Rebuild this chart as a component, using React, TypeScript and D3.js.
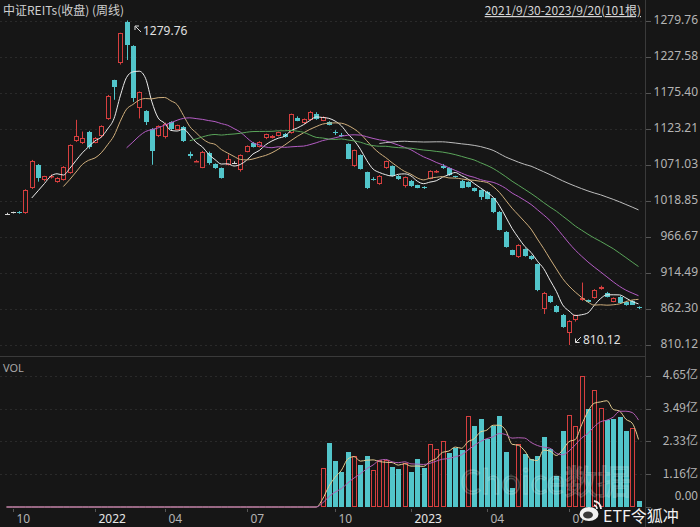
import * as d3 from 'd3';

// 中证REITs 周线 2021/9/30 - 2023/9/20, 101 bars
const opens = [
  1000, 1002, 1003, 1001, 1037, 1071, 1049, 1053, 1046, 1049,
  1059, 1105, 1103, 1118, 1103, 1112, 1137, 1193, 1218, 1277,
  1243, 1153, 1149, 1123, 1113, 1111, 1133, 1122, 1126, 1086,
  1076, 1067, 1088, 1072, 1066, 1071, 1074, 1063, 1090, 1103,
  1097, 1109, 1110, 1113, 1116, 1117, 1139, 1131, 1136, 1145,
  1135, 1133, 1118, 1114, 1101, 1069, 1085, 1060, 1051, 1043,
  1066, 1069, 1054, 1040, 1048, 1041, 1039, 1051, 1060, 1069,
  1066, 1054, 1048, 1046, 1037, 1034.5, 1032, 1022.5, 1003, 974,
  947, 937, 949, 939, 927.5, 862, 881, 867, 854, 827,
  847, 875.5, 875, 878, 891, 886, 873, 880, 873, 874.5,
  865,
];
const closes = [
  1000, 1002, 1001, 1034.5, 1077, 1052, 1054, 1055, 1051.5, 1068,
  1099.5, 1112, 1110, 1096, 1110, 1127, 1171, 1184, 1261, 1244,
  1167, 1176, 1132.5, 1091, 1127, 1130, 1123, 1128, 1105, 1084,
  1077, 1090, 1074, 1067, 1052, 1079, 1074, 1085, 1098, 1097,
  1104, 1115, 1113, 1118, 1111, 1144, 1135, 1137, 1148, 1137,
  1140, 1129, 1117, 1113, 1080, 1092, 1065, 1037, 1050, 1055,
  1076, 1055, 1050, 1053, 1040, 1038, 1037, 1061.5, 1062.5, 1066,
  1056, 1053, 1038, 1039, 1033, 1024, 1022, 1002, 977, 952,
  941, 955, 939, 934, 889, 886, 872, 858, 836, 845,
  853, 877.5, 872, 890, 894, 880, 878, 871, 868, 868.5,
  863,
];
const highs = [
  1001.5, 1003, 1004, 1035.5, 1078, 1072, 1055, 1057, 1053, 1069,
  1100.5, 1136, 1119, 1120, 1111, 1128, 1172, 1194, 1262, 1279.76,
  1244, 1177, 1150, 1124, 1128, 1132, 1134, 1129, 1127, 1090,
  1078, 1091, 1090, 1073, 1067, 1086, 1076, 1086, 1099, 1104,
  1105, 1116, 1114, 1119, 1117, 1145, 1141, 1138, 1149, 1147,
  1141, 1134, 1121, 1117, 1102, 1093, 1086, 1061, 1053, 1056,
  1077, 1070, 1056, 1054, 1049, 1042, 1040, 1063, 1063.5, 1072,
  1067, 1055, 1049, 1047, 1038, 1035, 1033, 1023, 1004, 975,
  948, 956, 950, 940, 928, 887, 882, 868, 855, 846,
  854, 900.5, 876, 891, 896, 887, 879, 881, 874, 875,
  866,
];
const lows = [
  999, 1000.5, 1000, 1000, 1036, 1046.5, 1047, 1051, 1045, 1048,
  1058, 1104, 1101, 1094, 1102, 1110, 1136, 1165, 1216, 1222.6,
  1162, 1138, 1128.5, 1071, 1111, 1109, 1121, 1121, 1104, 1080,
  1075, 1066, 1071, 1065, 1051, 1070, 1072, 1061, 1089, 1096,
  1096, 1108, 1109, 1112, 1110, 1116, 1134, 1130, 1135, 1136,
  1134, 1128, 1114, 1111, 1079, 1068, 1064, 1036, 1048, 1042,
  1065, 1054, 1049, 1038, 1039, 1037, 1036, 1050, 1059, 1065,
  1055, 1052, 1037, 1038, 1032, 1020, 1021, 1001, 976, 951,
  940, 936, 938, 933, 888, 855, 871, 857, 835, 810.12,
  844, 874, 871, 877, 890, 879, 872, 870, 867, 868,
  862,
];
// 成交量（亿）
const volumes = [
  0, 0, 0, 0, 0, 0, 0, 0, 0, 0,
  0, 0, 0, 0, 0, 0, 0, 0, 0, 0,
  0, 0, 0, 0, 0, 0, 0, 0, 0, 0,
  0, 0, 0, 0, 0, 0, 0, 0, 0, 0,
  0, 0, 0, 0, 0, 0, 0, 0, 0, 0,
  1.37, 2.28, 1.64, 1.25, 1.97, 1.8, 1.48, 1.81, 1.3, 1.67,
  1.68, 1.43, 1.35, 1.55, 1.25, 1.69, 1.37, 2.23, 2.07, 2.35,
  1.91, 2.08, 2.01, 3.23, 2.89, 3.11, 2.4, 2.88, 3.23, 1.96,
  0.66, 2.22, 1.88, 1.69, 1.8, 2.5, 2.05, 1.1, 2.68, 3.27,
  2.88, 4.65, 3.47, 4.15, 3.5, 3.09, 3.11, 3.18, 2.7, 2.8,
  0.2,
];

const priceTicks = [810.12, 862.3, 914.49, 966.67, 1018.85, 1071.03, 1123.21, 1175.4, 1227.58, 1279.76];
const volTicks = [0, 1.16, 2.33, 3.49, 4.65];
const xTickIdx = [1, 14, 25, 38, 52, 64, 76, 89];
const xTickLabels = ['10', '2022', '04', '07', '10', '2023', '04', '07'];

const priceMaPeriods = [5, 10, 20, 30, 60];
const priceMaColors = ['#ececec', '#cfae7c', '#b45cc4', '#5aa55a', '#bdbdbd'];
const volMaPeriods = [5, 10];
const volMaColors = ['#e6cf92', '#b35eb4'];

const BG = '#161616';
const RED = '#d63f3f';
const CYAN = '#52c5ca';
const AXIS = '#b4b4b4';
const NUM_FONT = '"Noto Sans", "DejaVu Sans", sans-serif';
const CJK_FONT = '"Noto Sans CJK SC", "Noto Sans", sans-serif';

function movingAverage(values: number[], n: number, partial = false): [number, number][] {
  const out: [number, number][] = [];
  values.forEach((_, i) => {
    if (i < n - 1 && !partial) return;
    const win = values.slice(Math.max(0, i - n + 1), i + 1);
    out.push([i, d3.mean(win) as number]);
  });
  return out;
}

export default function App() {
  const idx = d3.range(closes.length);
  const x = d3.scalePoint<number>().domain(idx).range([6.5, 638.5]);
  const yP = d3.scaleLinear().domain([810.12, 1279.76]).range([345, 20.5]);
  const yV = d3.scaleLinear().domain([0, 4.65]).range([507, 376]);

  const priceLine = d3
    .line<[number, number]>()
    .x((d) => x(d[0]) as number)
    .y((d) => yP(d[1]))
    .curve(d3.curveMonotoneX);
  const volLine = d3
    .line<[number, number]>()
    .x((d) => x(d[0]) as number)
    .y((d) => yV(d[1]))
    .curve(d3.curveMonotoneX);

  const px = (i: number) => Math.round(x(i) as number) + 0.5;

  return (
    <svg
      width={700}
      height={527}
      style={{ position: 'absolute', left: 0, top: 0, display: 'block' }}
    >
      <rect x={0} y={0} width={700} height={527} fill={BG} />

      {/* grid */}
      {priceTicks.map((t) => (
        <line
          key={'pg' + t}
          x1={0}
          x2={645}
          y1={Math.round(yP(t)) + 0.5}
          y2={Math.round(yP(t)) + 0.5}
          stroke="#2a2a2a"
          strokeDasharray="2,3"
        />
      ))}
      {volTicks.slice(1).map((t) => (
        <line
          key={'vg' + t}
          x1={0}
          x2={645}
          y1={Math.round(yV(t)) + 0.5}
          y2={Math.round(yV(t)) + 0.5}
          stroke="#2a2a2a"
          strokeDasharray="2,3"
        />
      ))}

      {/* frame */}
      <line x1={645.5} x2={645.5} y1={0} y2={527} stroke="#3a3a3a" />
      <line x1={0} x2={645} y1={356.5} y2={356.5} stroke="#3a3a3a" />

      {/* right price axis */}
      {priceTicks.map((t) => (
        <g key={'pt' + t}>
          <line x1={646} x2={651} y1={Math.round(yP(t)) + 0.5} y2={Math.round(yP(t)) + 0.5} stroke="#555" />
          <text
            x={698}
            y={yP(t)}
            textAnchor="end"
            dominantBaseline="middle"
            fill={AXIS}
            fontSize={12}
            fontFamily={NUM_FONT}
          >
            {t.toFixed(2)}
          </text>
        </g>
      ))}

      {/* right volume axis */}
      {volTicks.map((t) => (
        <g key={'vt' + t}>
          <line x1={646} x2={651} y1={Math.round(yV(t)) + 0.5} y2={Math.round(yV(t)) + 0.5} stroke="#555" />
          <text
            x={698}
            y={t === 0 ? yV(t) - 10 : yV(t)}
            textAnchor="end"
            dominantBaseline="middle"
            fill={AXIS}
            fontSize={12}
            fontFamily={CJK_FONT}
          >
            {t === 0 ? '0.00' : t.toFixed(2) + '亿'}
          </text>
        </g>
      ))}

      {/* candles */}
      {idx.map((i) => {
        const o = opens[i];
        const c = closes[i];
        const cx = px(i);
        const top = Math.round(yP(Math.max(o, c)));
        const bot = Math.round(yP(Math.min(o, c)));
        const bh = Math.max(1, bot - top);
        const hy = yP(highs[i]);
        const ly = yP(lows[i]);
        if (c === o) {
          return (
            <g key={'c' + i}>
              <line x1={cx} x2={cx} y1={hy} y2={ly} stroke="#d6d6d6" />
              <line x1={cx - 2.5} x2={cx + 2.5} y1={top + 0.5} y2={top + 0.5} stroke="#d6d6d6" />
            </g>
          );
        }
        if (c > o) {
          return (
            <g key={'c' + i}>
              <line x1={cx} x2={cx} y1={hy} y2={top} stroke={RED} />
              <line x1={cx} x2={cx} y1={top + bh} y2={ly} stroke={RED} />
              <rect x={cx - 2} y={top + 0.5} width={4} height={Math.max(bh - 1, 0.5)} fill={BG} stroke={RED} />
            </g>
          );
        }
        return (
          <g key={'c' + i}>
            <line x1={cx} x2={cx} y1={hy} y2={ly} stroke={CYAN} />
            <rect x={cx - 2.5} y={top} width={5} height={bh} fill={CYAN} />
          </g>
        );
      })}

      {/* price moving averages */}
      {priceMaPeriods.map((n, k) => (
        <path
          key={'pma' + n}
          d={priceLine(movingAverage(closes, n)) ?? ''}
          fill="none"
          stroke={priceMaColors[k]}
          strokeWidth={1}
        />
      ))}

      {/* volume bars */}
      {idx.map((i) => {
        const v = volumes[i];
        if (v <= 0) return null;
        const up = i > 0 && closes[i] >= closes[i - 1];
        const cx = px(i);
        const top = Math.round(yV(v));
        const base = Math.round(yV(0));
        return up ? (
          <rect
            key={'v' + i}
            x={cx - 2}
            y={top + 0.5}
            width={4}
            height={base - top - 1}
            fill={BG}
            stroke={RED}
          />
        ) : (
          <rect key={'v' + i} x={cx - 2.5} y={top} width={5} height={base - top} fill={CYAN} />
        );
      })}

      {/* volume moving averages */}
      {volMaPeriods.map((n, k) => (
        <path
          key={'vma' + n}
          d={volLine(movingAverage(volumes, n, true)) ?? ''}
          fill="none"
          stroke={volMaColors[k]}
          strokeWidth={1}
        />
      ))}

      {/* x axis */}
      {xTickIdx.map((ti, k) => (
        <g key={'xt' + k}>
          <line x1={px(ti)} x2={px(ti)} y1={509} y2={512} stroke="#555" />
          <text
            x={px(ti) + 3}
            y={523}
            fill={xTickLabels[k].length === 4 ? '#e6e6e6' : AXIS}
            fontSize={12}
            fontFamily={NUM_FONT}
          >
            {xTickLabels[k]}
          </text>
        </g>
      ))}

      {/* titles */}
      <text x={3} y={15} fill="#cfcfcf" fontSize={12} fontFamily={CJK_FONT}>
        中证REITs(收盘) (周线)
      </text>
      <text
        x={641}
        y={15}
        textAnchor="end"
        fill="#d4d4d4"
        fontSize={12}
        fontFamily={CJK_FONT}
        style={{ textDecoration: 'underline' }}
      >
        2021/9/30-2023/9/20(101根)
      </text>
      <text x={3} y={372} fill="#a8a8a8" fontSize={11} fontFamily={NUM_FONT}>
        VOL
      </text>

      {/* high / low markers */}
      <g stroke="#dcdcdc" fill="none">
        <line x1={141} y1={32} x2={135.5} y2={26.5} />
        <path d="M135,30 L135,26 L139,26" />
        <line x1={575.5} y1={342.5} x2={581} y2={337} />
        <path d="M575.5,338.5 L575.5,342.5 L579.5,342.5" />
      </g>
      <text x={143} y={35} fill="#e0e0e0" fontSize={12} fontFamily={NUM_FONT}>
        {d3.max(highs)!.toFixed(2)}
      </text>
      <text x={583} y={344} fill="#e0e0e0" fontSize={12} fontFamily={NUM_FONT}>
        {d3.min(lows)!.toFixed(2)}
      </text>

      {/* watermarks */}
      <text
        x={460}
        y={494}
        fontSize={33}
        fontFamily={CJK_FONT}
        fill="rgba(255,255,255,0.05)"
        stroke="rgba(255,255,255,0.2)"
        strokeWidth={1.5}
      >
        Choice数据
      </text>
      <g>
        <ellipse cx={589} cy={514} rx={9.5} ry={7} fill="#f2f2f2" />
        <ellipse cx={588} cy={515} rx={5} ry={3.5} fill="#3a3a3a" />
        <path d="M594,501 A8,8 0 0 1 601,509" fill="none" stroke="#f2f2f2" strokeWidth={1.8} />
        <path d="M594,505 A4,4 0 0 1 597,509" fill="none" stroke="#f2f2f2" strokeWidth={1.5} />
      </g>
      <text x={603} y={522} fontSize={16} fontFamily={CJK_FONT} fill="#f2f2f2">
        ETF令狐冲
      </text>
    </svg>
  );
}
